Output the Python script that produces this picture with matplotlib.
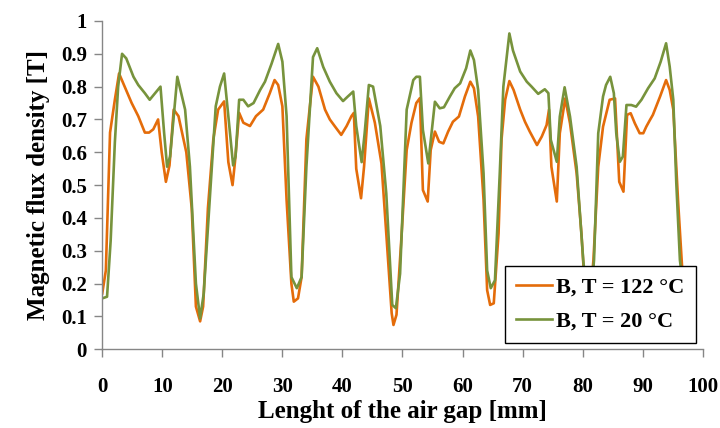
import numpy as np
import matplotlib
matplotlib.use("Agg")
import matplotlib.pyplot as plt

# Orange curve: B at T = 122 °C
x_hot = [0.0, 0.6, 1.3, 2.1, 2.8, 3.5, 4.9, 6.0, 7.1, 7.8, 8.5, 9.3, 9.9, 10.6, 11.2,
         11.9, 12.7, 14.0, 14.9, 15.6, 16.3, 16.8, 17.6, 18.5, 19.3, 20.3, 21.0, 21.7,
         22.1, 22.8, 23.5, 24.6, 25.6, 26.8, 27.9, 28.7, 29.3, 30.0, 30.7, 31.5, 31.9,
         32.6, 33.2, 34.0, 35.1, 36.0, 37.1, 37.9, 38.7, 39.8, 40.7, 41.5, 41.9, 42.3,
         43.1, 43.6, 44.4, 45.4, 46.5, 47.3, 48.2, 48.5, 49.0, 49.8, 50.7, 51.5, 52.3,
         52.9, 53.4, 54.2, 54.7, 55.4, 56.1, 56.8, 57.6, 58.4, 59.4, 60.4, 61.3, 61.9,
         62.6, 63.5, 64.1, 64.6, 65.2, 66.0, 66.5, 67.1, 67.8, 68.5, 69.6, 70.4, 71.2,
         72.4, 73.2, 74.0, 74.4, 74.8, 75.7, 76.2, 77.1, 77.9, 79.0, 79.8, 80.5, 81.1,
         81.8, 82.6, 83.4, 84.5, 85.4, 86.1, 86.8, 87.4, 88.0, 88.7, 89.5, 90.1, 90.6,
         91.2, 91.7, 92.9, 93.9, 94.5, 95.1, 95.9, 96.8]
b_hot = [0.17, 0.24, 0.66, 0.76, 0.84, 0.81, 0.75, 0.71, 0.66, 0.66, 0.67, 0.70, 0.60,
         0.51, 0.56, 0.73, 0.71, 0.60, 0.43, 0.13, 0.085, 0.13, 0.43, 0.64, 0.73, 0.755,
         0.57, 0.50, 0.57, 0.72, 0.69, 0.68, 0.71, 0.73, 0.78, 0.82, 0.805, 0.74, 0.455,
         0.20, 0.145, 0.155, 0.22, 0.64, 0.83, 0.80, 0.73, 0.70, 0.68, 0.653, 0.68, 0.71,
         0.72, 0.55, 0.46, 0.556, 0.764, 0.69, 0.566, 0.353, 0.11, 0.074, 0.105, 0.333,
         0.607, 0.69, 0.75, 0.765, 0.485, 0.45, 0.607, 0.663, 0.632, 0.627, 0.663, 0.693,
         0.709, 0.77, 0.815, 0.795, 0.709, 0.455, 0.18, 0.135, 0.14, 0.353, 0.64, 0.76,
         0.817, 0.79, 0.73, 0.693, 0.663, 0.622, 0.648, 0.683, 0.73, 0.556, 0.45, 0.658,
         0.764, 0.688, 0.536, 0.353, 0.15, 0.12, 0.272, 0.556, 0.678, 0.76, 0.764, 0.51,
         0.48, 0.714, 0.719, 0.688, 0.658, 0.658, 0.678, 0.698, 0.714, 0.77, 0.82, 0.79,
         0.73, 0.45, 0.18]

# Green curve: B at T = 20 °C
x_cold = [0.0, 0.8, 1.4, 2.1, 2.65, 3.3, 4.0, 5.2, 6.0, 7.1, 7.9, 8.8, 9.7, 10.3, 10.8,
          11.3, 12.5, 13.8, 14.6, 15.6, 16.3, 16.9, 17.9, 18.9, 19.6, 20.3, 21.0, 21.8,
          22.2, 22.8, 23.5, 24.3, 25.2, 26.3, 27.1, 28.2, 29.3, 30.0, 30.7, 31.5, 32.4,
          33.2, 34.0, 35.1, 35.8, 36.8, 37.9, 39.0, 40.1, 40.9, 41.8, 42.3, 43.2, 43.7,
          44.4, 45.1, 46.3, 47.3, 48.3, 48.9, 49.6, 50.7, 51.8, 52.3, 52.9, 53.4, 54.3,
          55.4, 56.2, 56.9, 57.9, 58.7, 59.6, 60.6, 61.3, 61.9, 62.6, 63.5, 64.1, 64.7,
          65.4, 66.2, 66.8, 67.8, 68.4, 69.6, 70.7, 71.5, 72.6, 73.7, 74.3, 74.7, 75.7,
          76.2, 77.0, 77.9, 79.0, 80.1, 80.7, 81.3, 81.9, 82.6, 83.4, 83.9, 84.6, 85.2,
          85.6, 86.2, 86.7, 87.3, 88.1, 88.9, 89.8, 90.9, 92.0, 93.0, 93.9, 94.5, 95.1,
          95.6, 96.2, 97.0]
b_cold = [0.155, 0.16, 0.33, 0.63, 0.80, 0.90, 0.886, 0.83, 0.805, 0.78, 0.76, 0.78,
          0.80, 0.66, 0.556, 0.587, 0.83, 0.73, 0.556, 0.20, 0.094, 0.17, 0.455, 0.74,
          0.80, 0.84, 0.71, 0.56, 0.587, 0.76, 0.76, 0.74, 0.75, 0.79, 0.815, 0.87, 0.93,
          0.876, 0.71, 0.22, 0.186, 0.22, 0.556, 0.89, 0.917, 0.86, 0.815, 0.78, 0.756,
          0.77, 0.785, 0.68, 0.57, 0.658, 0.805, 0.80, 0.68, 0.475, 0.135, 0.125, 0.23,
          0.73, 0.82, 0.83, 0.83, 0.668, 0.566, 0.754, 0.734, 0.737, 0.77, 0.795, 0.81,
          0.856, 0.91, 0.881, 0.79, 0.536, 0.24, 0.186, 0.21, 0.536, 0.80, 0.962, 0.91,
          0.846, 0.815, 0.80, 0.778, 0.792, 0.78, 0.638, 0.571, 0.709, 0.798, 0.709, 0.556,
          0.272, 0.16, 0.14, 0.272, 0.658, 0.77, 0.805, 0.83, 0.78, 0.658, 0.571, 0.587,
          0.744, 0.744, 0.739, 0.76, 0.795, 0.825, 0.876, 0.932, 0.861, 0.76, 0.506, 0.272,
          0.15]

x_ticks = list(range(0, 101, 10))
y_ticks = [0, 0.1, 0.2, 0.3, 0.4, 0.5, 0.6, 0.7, 0.8, 0.9, 1]
y_tick_labels = ["0", "0.1", "0.2", "0.3", "0.4", "0.5", "0.6", "0.7", "0.8", "0.9", "1"]

plt.rcParams["font.family"] = ["Liberation Serif", "DejaVu Serif"]
plt.rcParams["font.weight"] = "bold"

fig = plt.figure(figsize=(7.2, 4.28), dpi=100)
ax = fig.add_axes([0.142, 0.184, 0.834, 0.767])

ax.plot(x_hot, b_hot, color="#E46C0A", linewidth=1.9, label="B, T = 122 °C")
ax.plot(x_cold, b_cold, color="#77933C", linewidth=1.9, label="B, T = 20 °C")

ax.set_xlim(0, 100)
ax.set_ylim(0, 1)
ax.set_xticks(x_ticks)
ax.set_yticks(y_ticks)
ax.set_yticklabels(y_tick_labels)

for side in ["top", "right"]:
    ax.spines[side].set_visible(False)
for side in ["left", "bottom"]:
    ax.spines[side].set_color("#868686")
    ax.spines[side].set_linewidth(1.0)
ax.tick_params(axis="both", colors="#868686", length=6, width=1.0, labelsize=15,
               labelcolor="black", direction="out")
ax.tick_params(axis="x", pad=14)
ax.tick_params(axis="y", pad=5)

ax.set_xlabel("Lenght of the air gap [mm]", fontsize=18, fontweight="bold", labelpad=2)
ax.set_ylabel("Magnetic flux density [T]", fontsize=18, fontweight="bold", labelpad=8)

# opaque legend box: the curves pass behind it
leg = ax.legend(loc="lower right", bbox_to_anchor=(0.988, 0.02), borderaxespad=0,
                fontsize=16, frameon=True, fancybox=False, framealpha=1.0,
                handlelength=1.6, handletextpad=0.2, borderpad=0.5, labelspacing=0.6)
leg.get_frame().set_edgecolor("black")
leg.get_frame().set_linewidth(1.0)
for t in leg.get_texts():
    t.set_fontweight("bold")

fig.savefig("out.png", dpi=100)
